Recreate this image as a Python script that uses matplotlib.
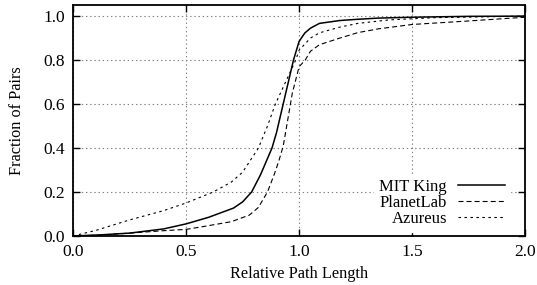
import matplotlib
matplotlib.use('Agg')
import matplotlib.pyplot as plt

plt.rcParams['font.family'] = ['Liberation Serif', 'DejaVu Serif']
plt.rcParams['lines.scale_dashes'] = False

# MIT King (solid)
mit_x = [0.0, 0.12, 0.25, 0.4, 0.5, 0.6, 0.71, 0.75, 0.79, 0.83, 0.88, 0.9, 0.925,
         0.95, 0.975, 1.0, 1.025, 1.05, 1.09, 1.18, 1.25, 1.35, 1.5, 1.75, 2.0]
mit_y = [0.0, 0.005, 0.013, 0.032, 0.055, 0.085, 0.127, 0.155, 0.2, 0.28, 0.4, 0.47, 0.58,
         0.69, 0.80, 0.885, 0.923, 0.945, 0.967, 0.98, 0.985, 0.991, 0.995, 0.999, 1.0]

# PlanetLab (dashed)
pl_x = [0.0, 0.12, 0.25, 0.4, 0.5, 0.56, 0.7, 0.78, 0.82, 0.86, 0.89, 0.91, 0.93,
        0.95, 0.97, 1.0, 1.027, 1.05, 1.09, 1.18, 1.26, 1.35, 1.5, 1.75, 2.0]
pl_y = [0.0, 0.004, 0.013, 0.024, 0.03, 0.04, 0.065, 0.095, 0.13, 0.2, 0.28, 0.34, 0.41,
        0.53, 0.65, 0.77, 0.80, 0.84, 0.87, 0.90, 0.925, 0.942, 0.962, 0.978, 0.995]

# Azureus (dotted)
az_x = [0.0, 0.1, 0.25, 0.4, 0.5, 0.62, 0.7, 0.75, 0.82, 0.86, 0.895, 0.94, 0.985,
        1.0, 1.05, 1.09, 1.18, 1.26, 1.4, 1.6, 2.0]
az_y = [0.0, 0.025, 0.073, 0.115, 0.15, 0.2, 0.245, 0.29, 0.4, 0.5, 0.6, 0.7, 0.8,
        0.845, 0.9, 0.924, 0.95, 0.967, 0.983, 0.993, 1.0]

xticks = [0.0, 0.5, 1.0, 1.5, 2.0]
yticks = [0.0, 0.2, 0.4, 0.6, 0.8, 1.0]

fig = plt.figure(figsize=(5.37, 2.85), dpi=100)
ax = fig.add_axes([0.136, 0.172, 0.842, 0.81])

ax.plot(mit_x, mit_y, color='black', lw=1.1, label='MIT King')
ax.plot(pl_x, pl_y, color='black', lw=0.8, dashes=(3.6, 2.2), label='PlanetLab')
ax.plot(az_x, az_y, color='black', lw=0.8, dashes=(1.8, 2.5), label='Azureus')

ax.set_xlim(0, 2.0)
ax.set_ylim(0, 1.05)
ax.set_xticks(xticks)
ax.set_yticks(yticks)
ax.set_xticklabels(['%.1f' % v for v in xticks])
ax.set_yticklabels(['%.1f' % v for v in yticks])
ax.tick_params(direction='in', top=True, right=True, length=5, width=1, labelsize=12.5, pad=6)
ax.grid(True, color='#808080', lw=0.8, linestyle=(0, (1, 2)))
for s in ax.spines.values():
    s.set_linewidth(1.3)

ax.set_xlabel('Relative Path Length', fontsize=11.7, labelpad=4)
ax.set_ylabel('Fraction of Pairs', fontsize=11.7, labelpad=13)

leg = ax.legend(loc='center right', bbox_to_anchor=(0.984, 0.143), markerfirst=False,
                fontsize=12, handlelength=2.8, handletextpad=0.65, labelspacing=0.0,
                borderpad=0.3, fancybox=False, framealpha=1, edgecolor='white')

fig.savefig('out.png', dpi=100)
